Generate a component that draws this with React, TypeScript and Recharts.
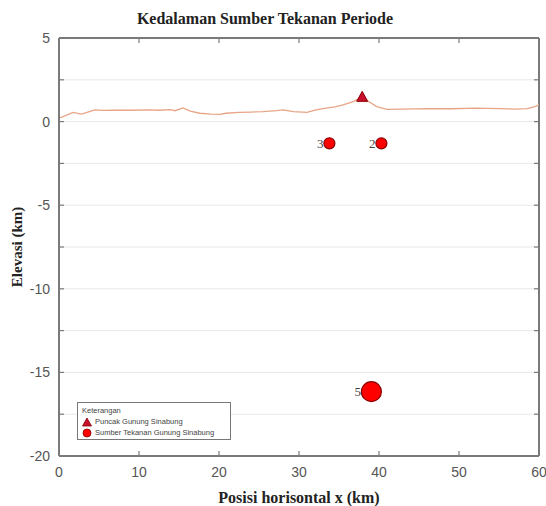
import React from 'react';
import { ComposedChart, Line, Scatter, XAxis, YAxis, CartesianGrid, Legend } from 'recharts';

// topography profile (km along x, elevation in km)
const topoKm = [0, 0.5, 1.75, 2.8, 3.5, 4.5, 5.5, 7, 9, 11, 12.5, 13.9, 14.5, 15.5, 16.4, 17.6, 19, 20.1, 20.9, 22.5, 24, 25.5, 27.2, 28, 29.3, 31, 32, 33, 34.5, 35.5, 36.8, 37.6, 38, 38.7, 39.7, 41, 43, 46, 49, 52, 55, 57, 58.5, 59.5, 60];
const topoElev = [0.2, 0.3, 0.55, 0.45, 0.55, 0.7, 0.67, 0.68, 0.68, 0.7, 0.68, 0.72, 0.65, 0.82, 0.63, 0.5, 0.45, 0.43, 0.5, 0.55, 0.57, 0.6, 0.66, 0.7, 0.6, 0.55, 0.68, 0.78, 0.88, 1.0, 1.2, 1.4, 1.42, 1.2, 0.9, 0.73, 0.75, 0.78, 0.77, 0.8, 0.78, 0.75, 0.78, 0.9, 1.0];

// summit of Sinabung
const peakKm = [37.9];
const peakElev = [1.45];

// pressure sources
const sourceNames = ['3', '2'];
const sourceKm = [33.8, 40.3];
const sourceDepth = [-1.3, -1.3];

const deepNames = ['5'];
const deepKm = [39.05];
const deepDepth = [-16.15];

const xTicks = [0, 10, 20, 30, 40, 50, 60];
const yTicks = [5, 2.5, 0, -2.5, -5, -7.5, -10, -12.5, -15, -17.5, -20];

const topo = topoKm.map((x, i) => ({ x, elev: topoElev[i] }));
const peak = peakKm.map((x, i) => ({ x, elev: peakElev[i] }));
const sources = sourceKm.map((x, i) => ({ x, elev: sourceDepth[i], name: sourceNames[i] }));
const deep = deepKm.map((x, i) => ({ x, elev: deepDepth[i], name: deepNames[i] }));

const AXIS = '#7a7a7a';
const GRID = '#e8e8e8';
const tickStyle = { fontFamily: 'Liberation Sans', fontSize: 14, fill: '#555' };

// horizontal grid line + inward ticks on left/right, top edge drawn as the box
const hLine = (p: any) => {
  const isTop = Math.abs(p.y1 - p.y) < 1;
  return (
    <g key={p.key}>
      <line x1={p.x1} x2={p.x2} y1={p.y1} y2={p.y2} stroke={isTop ? AXIS : GRID} strokeWidth={isTop ? 2 : 1} />
      <line x1={p.x1} x2={p.x1 + 5} y1={p.y1} y2={p.y1} stroke={AXIS} strokeWidth={1.2} />
      <line x1={p.x2 - 5} x2={p.x2} y1={p.y1} y2={p.y1} stroke={AXIS} strokeWidth={1.2} />
    </g>
  );
};

// inward ticks top/bottom, right edge drawn as the box
const vLine = (p: any) => {
  const isRight = Math.abs(p.x1 - (p.x + p.width)) < 1;
  return (
    <g key={p.key}>
      {isRight && <line x1={p.x1} x2={p.x2} y1={p.y1} y2={p.y2} stroke={AXIS} strokeWidth={2} />}
      <line x1={p.x1} x2={p.x1} y1={p.y1} y2={p.y1 + 5} stroke={AXIS} strokeWidth={1.2} />
      <line x1={p.x1} x2={p.x1} y1={p.y2 - 5} y2={p.y2} stroke={AXIS} strokeWidth={1.2} />
    </g>
  );
};

const triangleShape = (p: any) => (
  <polygon
    points={`${p.cx},${p.cy - 6} ${p.cx - 5.5},${p.cy + 4} ${p.cx + 5.5},${p.cy + 4}`}
    fill="#c8102e"
    stroke="#8b0000"
    strokeWidth={1}
  />
);

const circleShape = (r: number) => (p: any) => (
  <g>
    <circle cx={p.cx} cy={p.cy} r={r} fill="#ff0000" stroke="#8b0000" strokeWidth={1.2} />
    <text x={p.cx - r - 0.5} y={p.cy + 4.5} textAnchor="end" fontFamily="Liberation Serif" fontSize={13} fill="#444">
      {p.payload.name}
    </text>
  </g>
);

const YLabel = (props: any) => {
  const vb = props.viewBox;
  const x = 17;
  const y = vb.y + vb.height / 2;
  return (
    <text
      x={x}
      y={y}
      transform={`rotate(-90, ${x}, ${y})`}
      textAnchor="middle"
      dominantBaseline="central"
      fontFamily="Liberation Serif"
      fontWeight="bold"
      fontSize={15}
      fill="#222"
    >
      Elevasi (km)
    </text>
  );
};

const LegendBox = (props: any) => {
  const items = (props.payload || []).filter((e: any) => e.type !== 'none');
  items.sort((a: any, b: any) => (a.type === 'triangle' ? -1 : b.type === 'triangle' ? 1 : 0));
  return (
    <div
      style={{
        border: '1px solid #777',
        background: '#fff',
        width: 154,
        height: 38,
        boxSizing: 'border-box',
        padding: '2px 4px',
        fontFamily: 'Liberation Sans',
        fontSize: 7.5,
        color: '#444',
        lineHeight: '11px',
      }}
    >
      <div style={{ color: '#444' }}>Keterangan</div>
      {items.map((e: any) => (
        <div key={e.value} style={{ display: 'flex', alignItems: 'center' }}>
          <svg width={10} height={10} style={{ marginRight: 3 }}>
            {e.type === 'triangle' ? (
              <polygon points="5,1 9.5,9 0.5,9" fill="#c8102e" stroke="#8b0000" strokeWidth={0.8} />
            ) : (
              <circle cx={5} cy={5} r={4} fill="#ff0000" stroke="#8b0000" strokeWidth={0.8} />
            )}
          </svg>
          <span style={{ color: '#444' }}>{e.value}</span>
        </div>
      ))}
    </div>
  );
};

export default function App() {
  return (
    <div style={{ position: 'absolute', left: 0, top: 0, width: 546, height: 506, background: '#fff' }}>
      <div
        style={{
          position: 'absolute',
          top: 10,
          left: 0,
          width: 530,
          textAlign: 'center',
          fontFamily: 'Liberation Serif',
          fontWeight: 'bold',
          fontSize: 16,
          color: '#222',
          lineHeight: '18px',
        }}
      >
        Kedalaman Sumber Tekanan Periode
      </div>
      <ComposedChart width={546} height={506} margin={{ top: 38, right: 7, bottom: 0, left: 0 }}>
        <CartesianGrid horizontal={hLine} vertical={vLine} />
        <XAxis
          dataKey="x"
          type="number"
          domain={[0, 60]}
          ticks={xTicks}
          allowDataOverflow
          height={50}
          axisLine={{ stroke: AXIS, strokeWidth: 2 }}
          tickLine={false}
          tickSize={-5}
          tickMargin={16}
          tick={tickStyle}
          label={{
            value: 'Posisi horisontal x (km)',
            position: 'insideBottom',
            offset: 3,
            style: { fontFamily: 'Liberation Serif', fontWeight: 'bold', fontSize: 16, fill: '#222' },
          }}
        />
        <YAxis
          type="number"
          domain={[-20, 5]}
          ticks={yTicks}
          allowDataOverflow
          width={59}
          axisLine={{ stroke: AXIS, strokeWidth: 2 }}
          tickLine={false}
          tickSize={-5}
          tickMargin={14}
          tick={tickStyle}
          tickFormatter={(v: number) => (v % 5 === 0 ? String(v) : '')}
          label={<YLabel />}
        />
        <Line
          data={topo}
          dataKey="elev"
          type="linear"
          stroke="#e8a586"
          strokeWidth={1.3}
          dot={false}
          legendType="none"
          isAnimationActive={false}
        />
        <Scatter
          data={peak}
          dataKey="elev"
          name="Puncak Gunung Sinabung"
          fill="#c8102e"
          legendType="triangle"
          shape={triangleShape}
          isAnimationActive={false}
        />
        <Scatter
          data={sources}
          dataKey="elev"
          name="Sumber Tekanan Gunung Sinabung"
          fill="#ff0000"
          legendType="circle"
          shape={circleShape(5.5)}
          isAnimationActive={false}
        />
        <Scatter
          data={deep}
          dataKey="elev"
          name="deep"
          fill="#ff0000"
          legendType="none"
          shape={circleShape(10)}
          isAnimationActive={false}
        />
        <Legend
          layout="vertical"
          align="center"
          verticalAlign="middle"
          content={<LegendBox />}
          wrapperStyle={{ position: 'absolute', left: 77, top: 402, width: 154, height: 38 }}
        />
      </ComposedChart>
    </div>
  );
}
